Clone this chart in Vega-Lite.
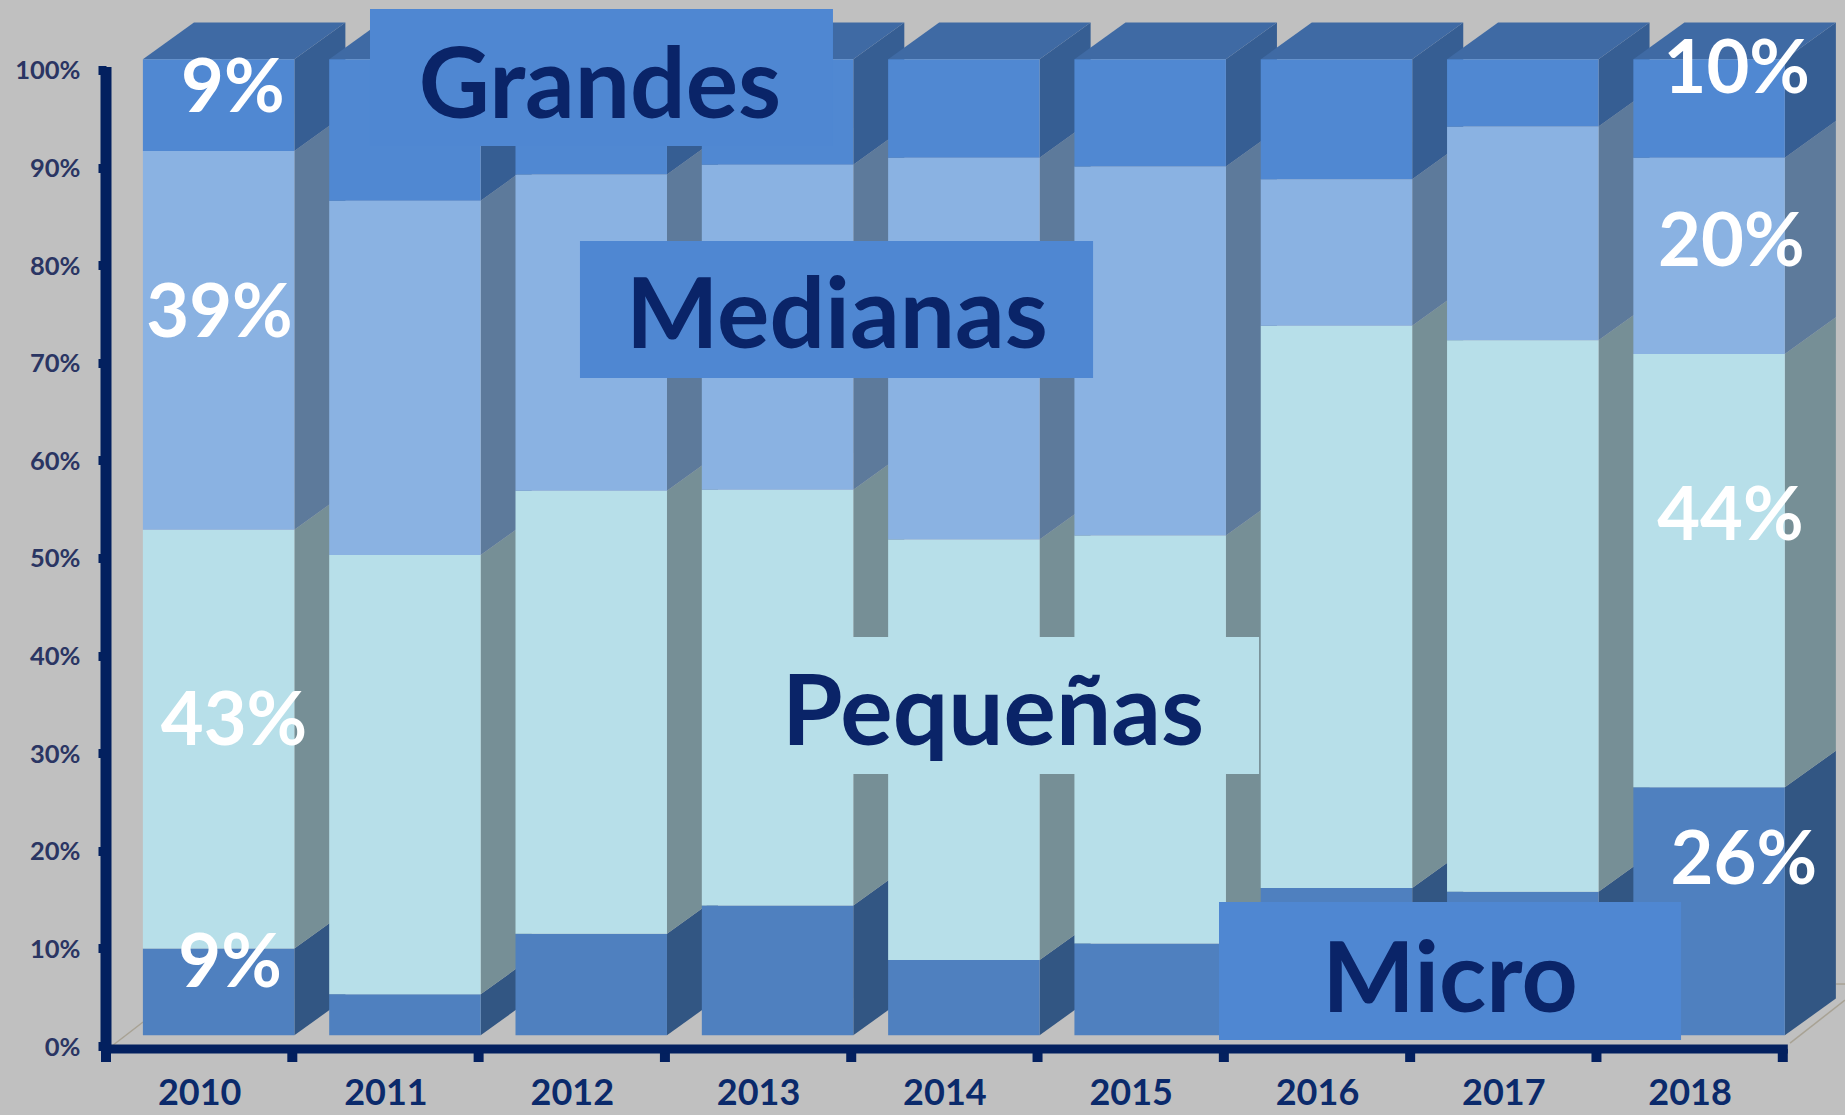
{
"$schema":"https://vega.github.io/schema/vega-lite/v6.json",
"width":1739,"height":1046,"autosize":"none",
"padding":{"left":106,"top":0,"right":0,"bottom":69},
"background":"#c0c0c0",
"config":{"view":{"stroke":null},"font":"Lato",
 "axisX":{"domain":false,"ticks":false,"grid":false,"labelFont":"Lato","labelFontWeight":"bold","labelFontSize":36,"labelColor":"#0b2a6b","labelPadding":58,"labelBaseline":"alphabetic","labelFlush":false,"labelOverlap":false},
 "axisY":{"domain":false,"grid":false,"tickColor":"#03205f","tickSize":8,"tickWidth":9,"labelFont":"Lato","labelFontSize":25.5,"labelFontWeight":"bold","labelColor":"#2a3563","labelPadding":18,"labelOffset":1,"labelOverlap":false}},
"datasets":{
 "cuotas":[
  {"year":2010,"serie":"Micro","orden":1,"valor":8.9},{"year":2010,"serie":"Pequeñas","orden":2,"valor":42.9},{"year":2010,"serie":"Medianas","orden":3,"valor":38.8},{"year":2010,"serie":"Grandes","orden":4,"valor":9.4},
  {"year":2011,"serie":"Micro","orden":1,"valor":4.2},{"year":2011,"serie":"Pequeñas","orden":2,"valor":45.0},{"year":2011,"serie":"Medianas","orden":3,"valor":36.3},{"year":2011,"serie":"Grandes","orden":4,"valor":14.5},
  {"year":2012,"serie":"Micro","orden":1,"valor":10.4},{"year":2012,"serie":"Pequeñas","orden":2,"valor":45.4},{"year":2012,"serie":"Medianas","orden":3,"valor":32.4},{"year":2012,"serie":"Grandes","orden":4,"valor":11.8},
  {"year":2013,"serie":"Micro","orden":1,"valor":13.3},{"year":2013,"serie":"Pequeñas","orden":2,"valor":42.6},{"year":2013,"serie":"Medianas","orden":3,"valor":33.3},{"year":2013,"serie":"Grandes","orden":4,"valor":10.8},
  {"year":2014,"serie":"Micro","orden":1,"valor":7.7},{"year":2014,"serie":"Pequeñas","orden":2,"valor":43.1},{"year":2014,"serie":"Medianas","orden":3,"valor":39.1},{"year":2014,"serie":"Grandes","orden":4,"valor":10.1},
  {"year":2015,"serie":"Micro","orden":1,"valor":9.4},{"year":2015,"serie":"Pequeñas","orden":2,"valor":41.8},{"year":2015,"serie":"Medianas","orden":3,"valor":37.8},{"year":2015,"serie":"Grandes","orden":4,"valor":11.0},
  {"year":2016,"serie":"Micro","orden":1,"valor":15.1},{"year":2016,"serie":"Pequeñas","orden":2,"valor":57.6},{"year":2016,"serie":"Medianas","orden":3,"valor":15.0},{"year":2016,"serie":"Grandes","orden":4,"valor":12.3},
  {"year":2017,"serie":"Micro","orden":1,"valor":14.7},{"year":2017,"serie":"Pequeñas","orden":2,"valor":56.5},{"year":2017,"serie":"Medianas","orden":3,"valor":21.9},{"year":2017,"serie":"Grandes","orden":4,"valor":6.9},
  {"year":2018,"serie":"Micro","orden":1,"valor":25.4},{"year":2018,"serie":"Pequeñas","orden":2,"valor":44.4},{"year":2018,"serie":"Medianas","orden":3,"valor":20.1},{"year":2018,"serie":"Grandes","orden":4,"valor":10.1}
 ],
 "cajas":[
  {"nombre":"Grandes","tono":"Grandes-caja","x1":2010.917,"x2":2013.402,"y1":92.2,"y2":106.25,"tx":2012.151,"ty":98.1},
  {"nombre":"Medianas","tono":"Medianas-caja","x1":2012.044,"x2":2014.798,"y1":68.44,"y2":82.48,"tx":2013.423,"ty":74.5},
  {"nombre":"Pequeñas","tono":"Pequeñas-f","x1":2012.833,"x2":2015.689,"y1":27.87,"y2":41.9,"tx":2014.261,"ty":33.8},
  {"nombre":"Micro","tono":"Micro-caja","x1":2015.474,"x2":2017.954,"y1":0.61,"y2":14.75,"tx":2016.714,"ty":6.45}
 ],
 "rotulos":[
  {"texto":"9%","x":2010.181,"y":98.0},
  {"texto":"39%","x":2010.109,"y":74.9},
  {"texto":"43%","x":2010.187,"y":33.1},
  {"texto":"9%","x":2010.166,"y":8.3},
  {"texto":"10%","x":2018.253,"y":99.9},
  {"texto":"20%","x":2018.224,"y":82.2},
  {"texto":"44%","x":2018.219,"y":54.1},
  {"texto":"26%","x":2018.291,"y":18.9}
 ],
 "suelo":[
  {"linea":"a","x":2009.532,"y":0},{"linea":"a","x":2009.699,"y":2.46},
  {"linea":"b","x":2018.539,"y":0.3},{"linea":"b","x":2018.834,"y":4.7},
  {"linea":"c","x":2018.786,"y":6.35},{"linea":"c","x":2018.834,"y":6.35}
 ],
 "marcas":[{"x":2009.5},{"x":2010.5},{"x":2011.5},{"x":2012.5},{"x":2013.5},{"x":2014.5},{"x":2015.5},{"x":2016.5},{"x":2017.5},{"x":2018.5}]
},
"layer":[
 {"data":{"name":"suelo"},"mark":{"type":"line","color":"#a8a294","strokeWidth":1.5},
  "encoding":{"x":{"field":"x","type":"quantitative","title":null,"scale":{"domain":[2009.5,2018.834],"nice":false,"zero":false},
    "axis":{"values":[2010,2011,2012,2013,2014,2015,2016,2017,2018],"format":"d"}},
   "y":{"field":"y","type":"quantitative","title":null,"scale":{"domain":[0,107.17],"nice":false,"zero":false},
    "axis":{"values":[0,10,20,30,40,50,60,70,80,90,100],"labelExpr":"datum.value+'%'"}},
   "detail":{"field":"linea"}}},
 {"data":{"name":"cuotas"},
  "transform":[
   {"stack":"valor","groupby":["year"],"sort":[{"field":"orden","order":"ascending"}],"as":["v0","v1"]},
   {"calculate":"datum.year-0.302","as":"izq"},
   {"calculate":"datum.year+0.511","as":"der"},
   {"calculate":"datum.v0+1.1","as":"bajo"},
   {"calculate":"datum.v1+1.1","as":"alto"},
   {"calculate":"datum.serie+'-f'","as":"tonoF"},
   {"calculate":"datum.serie+'-s'","as":"tonoS"}
  ],
  "layer":[
   {"transform":[{"calculate":"[0,1]","as":"p"},{"flatten":["p"]},
     {"calculate":"datum.der+datum.p*0.274","as":"xs"},{"calculate":"datum.bajo+datum.p*3.76","as":"y1s"},{"calculate":"datum.alto+datum.p*3.76","as":"y2s"},
     {"calculate":"datum.year+'-'+datum.serie","as":"clave"}],
    "mark":{"type":"area","orient":"vertical"},
    "encoding":{"x":{"field":"xs","type":"quantitative","title":null},"y":{"field":"y1s","type":"quantitative","title":null},"y2":{"field":"y2s"},
     "color":{"field":"tonoS","type":"nominal","legend":null,"scale":{"domain":["Micro-f","Pequeñas-f","Medianas-f","Grandes-f","Micro-s","Pequeñas-s","Medianas-s","Grandes-s","techo","Grandes-caja","Medianas-caja","Micro-caja"],"range":["#4f80bf","#b7dfe9","#8ab2e2","#5088d2","#325683","#768f96","#5d7a9b","#365e93","#3f6aa4","#4f87d2","#4f87d2","#4f87d2"]}},
     "detail":{"field":"clave"}}},
   {"transform":[{"filter":"datum.serie==='Grandes'"},{"calculate":"[0,1]","as":"p"},{"flatten":["p"]},
     {"calculate":"datum.izq+datum.p*0.274","as":"xa"},{"calculate":"datum.der+datum.p*0.274","as":"xb"},{"calculate":"datum.alto+datum.p*3.76","as":"yt"},{"calculate":"'techo'","as":"tonoT"}],
    "mark":{"type":"area","orient":"horizontal"},
    "encoding":{"y":{"field":"yt","type":"quantitative","title":null},"x":{"field":"xa","type":"quantitative","title":null},"x2":{"field":"xb"},
     "color":{"field":"tonoT","type":"nominal","legend":null},
     "detail":{"field":"year"}}},
   {"mark":{"type":"rect"},
    "encoding":{"x":{"field":"izq","type":"quantitative","title":null},"x2":{"field":"der"},"y":{"field":"bajo","type":"quantitative","title":null},"y2":{"field":"alto"},
     "color":{"field":"tonoF","type":"nominal","legend":null}}}
  ]},
 {"data":{"name":"marcas"},"transform":[{"calculate":"-0.3","as":"a"},{"calculate":"-1.64","as":"b"}],"mark":{"type":"rule","color":"#03205f","strokeWidth":10},
  "encoding":{"x":{"field":"x","type":"quantitative","title":null},"y":{"field":"a","type":"quantitative","title":null},"y2":{"field":"b"}}},
 {"data":{"values":[{"x":2009.5,"x2":2018.527,"y":-0.3}]},"mark":{"type":"rule","color":"#03205f","strokeWidth":9},
  "encoding":{"x":{"field":"x","type":"quantitative","title":null},"x2":{"field":"x2"},"y":{"field":"y","type":"quantitative","title":null}}},
 {"data":{"values":[{"x":2009.5,"y":100.3,"y2":-0.3}]},"mark":{"type":"rule","color":"#03205f","strokeWidth":11},
  "encoding":{"x":{"field":"x","type":"quantitative","title":null},"y":{"field":"y","type":"quantitative","title":null},"y2":{"field":"y2"}}},
 {"data":{"name":"cajas"},"mark":{"type":"rect"},
  "encoding":{"x":{"field":"x1","type":"quantitative","title":null},"x2":{"field":"x2"},"y":{"field":"y1","type":"quantitative","title":null},"y2":{"field":"y2"},
   "color":{"field":"tono","type":"nominal","legend":null}}},
 {"data":{"name":"cajas"},"mark":{"type":"text","font":"Lato","fontWeight":"bold","fontSize":98,"color":"#0a2468","baseline":"middle","align":"center"},
  "encoding":{"x":{"field":"tx","type":"quantitative","title":null},"y":{"field":"ty","type":"quantitative","title":null},"text":{"field":"nombre"}}},
 {"data":{"name":"rotulos"},"mark":{"type":"text","font":"Lato","fontWeight":"bold","fontSize":74,"color":"#ffffff","baseline":"middle","align":"center"},
  "encoding":{"x":{"field":"x","type":"quantitative","title":null},"y":{"field":"y","type":"quantitative","title":null},"text":{"field":"texto"}}}
]
}
